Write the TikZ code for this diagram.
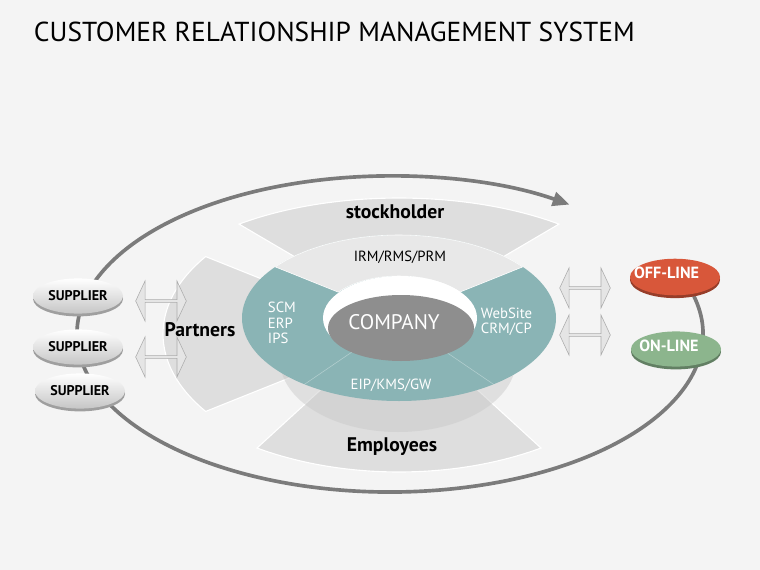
\documentclass[tikz,border=0pt]{standalone}
\usepackage{fontspec}
\setmainfont{PT Sans}
\usetikzlibrary{arrows.meta,positioning,calc,shapes.geometric,shapes.arrows,shadows}
\definecolor{bgray}{HTML}{F4F4F4}
\definecolor{loopgray}{HTML}{7B7B7B}
\definecolor{wedgegray}{HTML}{DEDEDE}
\definecolor{ringteal}{HTML}{8AB4B5}
\definecolor{compgray}{HTML}{8E8E8E}
\definecolor{offred}{HTML}{D8573A}
\definecolor{ongreen}{HTML}{8CB58D}
\tikzset{
  loopln/.style={loopgray,line width=2.6pt,-{Triangle[length=12pt,width=10pt]}},
  wedge/.style={fill=wedgegray,draw=white,line width=0.8pt},
  dblarrow/.style={double arrow,draw=gray!65,fill=gray!20,thin,inner sep=0pt,
    minimum height=36pt,minimum width=28.5pt,double arrow head extend=2.8pt,
    double arrow tip angle=130},
  disk/.style={ellipse,minimum width=64pt,minimum height=25pt,inner sep=0pt},
  supplier/.style={disk,top color=white,bottom color=gray!45,
    general shadow={fill=gray!75,shadow yshift=-2pt},
    font=\bfseries\fontsize{10}{12}\selectfont},
  offdisk/.style={disk,minimum height=26pt,fill=offred,
    general shadow={fill=offred!70!black,shadow yshift=-2pt}},
  ondisk/.style={disk,fill=ongreen,
    general shadow={fill=ongreen!70!black,shadow yshift=-2pt}},
  disktxt/.style={white,font=\bfseries\fontsize{11.5}{13}\selectfont},
  seglbl/.style={font=\bfseries\fontsize{14}{16}\selectfont},
  ringlbl/.style={white,font=\fontsize{10.5}{11}\selectfont,align=left},
}
\begin{document}
\begin{tikzpicture}[x=0.025cm,y=-0.025cm]
  \fill[bgray] (0,0) rectangle (760,570);
  \node[anchor=west,font=\fontsize{19.5}{22}\selectfont] (title) at (29,32)
    {CUSTOMER RELATIONSHIP MANAGEMENT SYSTEM};
  \coordinate (c) at (399,318);
  \coordinate (pc) at (399,334);
  \coordinate (lc) at (390,334);
  % outer loop
  \draw[loopln] (lc) ++(-14:313 and 158)
    arc[start angle=-14,end angle=305,x radius=313,y radius=158];
  % sectors behind the ring
  \fill[wedge] (pc) -- ++(145:236 and 135)
    arc[start angle=145,end angle=215,x radius=236,y radius=135] -- cycle;
  \fill[wedge] (c) -- ++(231.5:257 and 120)
    arc[start angle=231.5,end angle=308.5,x radius=257,y radius=120] -- cycle;
  \fill[wedge] (c) -- ++(57.6:265 and 154)
    arc[start angle=57.6,end angle=122.4,x radius=265,y radius=154] -- cycle;
  % ring and its shadow
  \fill[gray!45,opacity=0.45] (398,360) ellipse[x radius=118,y radius=72];
  \fill[ringteal] (c) ellipse[x radius=157,y radius=83];
  \fill[wedgegray!70!white,draw=white,thin] (c) ++(218:157 and 83)
    arc[start angle=218,end angle=322,x radius=157,y radius=83]
    -- ($(c)+(322:77 and 42)$)
    arc[start angle=322,end angle=218,x radius=77,y radius=42] -- cycle;
  \draw[white,opacity=.35] ($(c)+(53:77 and 42)$) -- ($(c)+(53:157 and 83)$);
  \draw[white,opacity=.35] ($(c)+(127:77 and 42)$) -- ($(c)+(127:157 and 83)$);
  \fill[white] (400,318) ellipse[x radius=77,y radius=42];
  \fill[compgray] (401,328) ellipse[x radius=73,y radius=33];
  % labels
  \node[seglbl] (stock) at (395,212) {stockholder};
  \node[seglbl] (emp) at (392,447) {Employees};
  \node[seglbl] (partners) at (200,330) {Partners};
  \node[font=\fontsize{10.5}{12}\selectfont] (irm) at (400,257) {IRM/RMS/PRM};
  \node[ringlbl,anchor=west] (scm) at (263,323) {SCM\\ERP\\IPS};
  \node[ringlbl,anchor=west] (web) at (476,322) {WebSite\\CRM/CP};
  \node[ringlbl] (eip) at (391,385) {EIP/KMS/GW};
  \node[white,font=\fontsize{15}{17}\selectfont] (comp) at (394,322) {COMPANY};
  % exchange arrows
  \node[dblarrow] (pa1) at (161,301) {};
  \node[dblarrow] (pa2) at (161,357) {};
  \node[dblarrow] (ca1) at (585,288) {};
  \node[dblarrow] (ca2) at (585,335) {};
  % suppliers and channels
  \node[supplier] (s1) at (78,296) {SUPPLIER};
  \node[supplier] (s2) at (78,347) {SUPPLIER};
  \node[supplier] (s3) at (80,391) {SUPPLIER};
  \node[offdisk] (off) at (675,277) {};
  \node[disktxt] (offlbl) at ([xshift=-6pt,yshift=3pt]off.center) {OFF-LINE};
  \node[ondisk] (on) at (676,349) {};
  \node[disktxt] (onlbl) at ([xshift=-5pt,yshift=2pt]on.center) {ON-LINE};
\end{tikzpicture}
\end{document}
